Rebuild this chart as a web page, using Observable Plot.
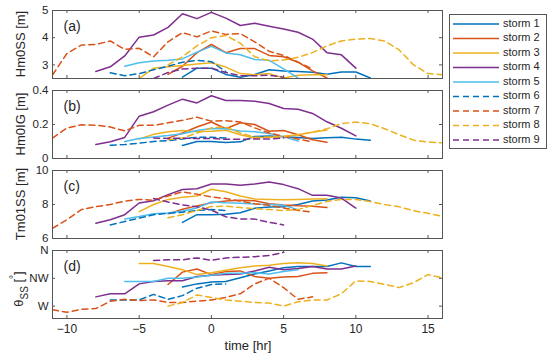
<!DOCTYPE html>
<html><head><meta charset="utf-8">
<script src="https://cdn.jsdelivr.net/npm/d3@7"></script>
<script src="https://cdn.jsdelivr.net/npm/@observablehq/plot@0.6"></script>
<style>
body{margin:0;background:#fff;}
#chart{position:relative;width:550px;height:359px;overflow:hidden;font-family:"Liberation Sans",Arial,sans-serif;}
#chart svg{position:absolute;left:0;}
</style></head><body><div id="chart"></div>
<script>
// ---------------- data ----------------
const stormNames = ["storm 1","storm 2","storm 3","storm 4","storm 5","storm 6","storm 7","storm 8","storm 9"];
const stormColors = ["#0072BD","#D95319","#EDB120","#7E2F8E","#4DBEEE","#0072BD","#D95319","#EDB120","#7E2F8E"];
const stormDashed = [false,false,false,false,false,true,true,true,true];

const s1_t     = [-2,-1,0,1,2,3,4,5,6,7,8,9,10,11];
const s1_hm0ss = [2.55,2.88,2.88,2.65,2.55,2.65,2.82,2.78,2.76,2.73,2.66,2.74,2.74,2.52];
const s1_hm0ig = [0.077,0.1,0.1,0.094,0.098,0.13,0.132,0.128,0.124,0.118,0.122,0.125,0.114,0.108];
const s1_tm01  = [6.95,7.4,7.4,7.42,7.52,7.78,7.85,7.87,8.0,8.2,8.26,8.42,8.4,8.2];
const s1_dir   = [301,306,309,310,316,322,327,332,334,334,334,340,334,334];

const s2_t     = [-3,-2,-1,0,1,2,3,4,5,6,7,8];
const s2_hm0ss = [2.65,2.95,3.45,3.75,3.45,3.6,3.6,3.35,3.3,3.1,2.78,2.52];
const s2_hm0ig = [0.12,0.15,0.185,0.215,0.175,0.21,0.2,0.16,0.165,0.14,0.11,0.095];
const s2_tm01  = [7.45,7.72,7.92,8.1,8.2,8.25,8.22,8.05,7.97,7.92,7.9,7.82];
const s2_dir   = [305,325,330,321,326,327,318,315,317,318,323,324];

const s3_t     = [-5,-4,-3,-2,-1,0,1,2,3,4,5,6,7,8];
const s3_hm0ss = [2.5,2.88,2.93,2.98,3.03,3.08,2.92,2.68,2.64,2.68,2.52,2.62,2.64,2.64];
const s3_hm0ig = [0.115,0.142,0.157,0.164,0.158,0.16,0.166,0.14,0.12,0.125,0.13,0.14,0.155,0.168];
const s3_tm01  = [7.58,8.0,8.3,8.42,8.5,8.9,8.75,8.5,8.32,8.3,8.28,8.3,8.32,8.34];
const s3_dir   = [339,339,334,329,321,324,328,332,335,336,339,340,339,335];

const s4_t     = [-8,-7,-6,-5,-4,-3,-2,-1,0,1,2,3,4,5,6,7,8,9,10];
const s4_hm0ss = [2.76,2.93,3.33,4.02,4.10,4.38,4.88,4.70,4.93,4.72,4.45,4.53,4.42,4.32,4.20,3.95,3.45,3.37,2.88];
const s4_hm0ig = [0.082,0.098,0.124,0.249,0.275,0.314,0.349,0.327,0.369,0.341,0.341,0.337,0.324,0.294,0.29,0.265,0.216,0.178,0.133];
const s4_tm01  = [6.9,7.1,7.4,8.09,8.22,8.58,8.88,8.93,9.21,9.21,9.13,9.21,9.33,9.17,8.93,8.54,8.54,8.38,7.79];
const s4_dir   = [285,290,290,306,310,311,311,318,320,321,322,327,333,329,331,334,330,330,335];

const s5_t     = [-6,-5,-4,-3,-2,-1,0,1,2,3,4,5,6];
const s5_hm0ss = [2.95,3.08,3.14,3.17,3.22,3.47,3.68,3.44,3.37,3.2,3.17,2.85,2.52];
const s5_hm0ig = [0.1,0.118,0.127,0.135,0.145,0.165,0.177,0.175,0.162,0.157,0.147,0.128,0.103];
const s5_tm01  = [7.15,7.3,7.45,7.5,7.62,7.8,8.15,8.1,8.08,8.03,8.0,7.95,7.7];
const s5_dir   = [310,310,310,315,315,317,320,323,323,324,322,326,329];

const s6_t     = [-7,-6,-5,-4,-3,-2,-1,0,1];
const s6_hm0ss = [2.71,2.6,2.68,2.82,2.95,3.1,3.17,3.12,2.75];
const s6_hm0ig = [0.078,0.082,0.09,0.1,0.105,0.115,0.125,0.125,0.12];
const s6_tm01  = [6.8,7.0,7.2,7.4,7.48,7.55,7.65,7.7,7.65];
const s6_dir   = [280,280,280,289,281,287,299,305,306];

const s7_t     = [-11,-10,-9,-8,-7,-6,-5,-4,-3,-2,-1,0,1,2,3,4,5,6,7];
const s7_hm0ss = [2.63,3.42,3.73,3.75,3.88,3.57,3.61,3.30,3.85,4.19,4.03,4.25,4.12,4.15,3.85,3.5,3.35,3.1,2.85];
const s7_hm0ig = [0.12,0.18,0.198,0.196,0.185,0.162,0.195,0.195,0.21,0.225,0.243,0.22,0.222,0.215,0.18,0.15,0.13,0.115,0.098];
const s7_tm01  = [6.6,7.1,7.7,7.87,8.0,8.2,8.3,8.25,8.5,8.75,8.6,8.45,8.35,8.2,8.05,7.95,7.8,7.65,7.55];
const s7_dir   = [264,260,265,266,278,281,279,280,276,276,278,280,284,290,306,315,300,281,285];

const s8_t     = [-3,-2,-1,0,1,2,3,4,5,6,7,8,9,10,11,12,13,14,15,16];
const s8_hm0ss = [3.0,3.3,3.7,4.0,4.08,3.8,3.3,3.15,3.18,3.28,3.45,3.7,3.88,3.95,3.97,3.88,3.55,3.0,2.68,2.64];
const s8_hm0ig = [0.11,0.12,0.15,0.18,0.185,0.15,0.125,0.125,0.13,0.14,0.155,0.175,0.205,0.214,0.205,0.175,0.14,0.108,0.097,0.092];
const s8_tm01  = [7.22,7.4,7.65,7.88,7.9,7.82,7.75,7.7,7.65,7.7,7.95,8.18,8.3,8.3,8.17,8.0,7.87,7.63,7.48,7.3];
const s8_dir   = [270,276,288,284,280,278,276,275,270,277,280,280,290,311,310,305,300,308,321,316];

const s9_t     = [-4,-3,-2,-1,0,1,2,3,4,5];
const s9_hm0ss = [2.5,2.72,2.85,2.88,2.88,2.72,2.6,2.6,2.62,2.55];
const s9_hm0ig = [0.12,0.118,0.12,0.117,0.118,0.113,0.113,0.115,0.115,0.12];
const s9_tm01  = [8.35,8.15,7.98,7.87,7.67,7.28,7.14,7.14,6.95,6.8];
const s9_dir   = [344,345,345,348,344,348,349,350,352,357];

const xTicks = [-10,-5,0,5,10,15];
const hm0ssTicks = [3,4,5];
const hm0igTicks = [0,0.2,0.4];
const tm01Ticks = [6,8,10];
const dirTicks = [270,315,360];
const dirTickLabels = ["W","NW","N"];
const panelTags = ["(a)","(b)","(c)","(d)"];

// ---------------- assembly ----------------
const stormTimes = [s1_t,s2_t,s3_t,s4_t,s5_t,s6_t,s7_t,s8_t,s9_t];
const seriesByPanel = [
  [s1_hm0ss,s2_hm0ss,s3_hm0ss,s4_hm0ss,s5_hm0ss,s6_hm0ss,s7_hm0ss,s8_hm0ss,s9_hm0ss],
  [s1_hm0ig,s2_hm0ig,s3_hm0ig,s4_hm0ig,s5_hm0ig,s6_hm0ig,s7_hm0ig,s8_hm0ig,s9_hm0ig],
  [s1_tm01,s2_tm01,s3_tm01,s4_tm01,s5_tm01,s6_tm01,s7_tm01,s8_tm01,s9_tm01],
  [s1_dir,s2_dir,s3_dir,s4_dir,s5_dir,s6_dir,s7_dir,s8_dir,s9_dir]
];
const panels = [
  {domain:[2.5,5], ticks:hm0ssTicks, fmt:d=>String(d), top:0},
  {domain:[0,0.4], ticks:hm0igTicks, fmt:d=>String(d), top:80},
  {domain:[6,10], ticks:tm01Ticks, fmt:d=>String(d), top:160},
  {domain:[250,360], ticks:dirTicks, fmt:d=>dirTickLabels[dirTicks.indexOf(d)], top:240}
];

const W = 550, ML = 52, MR = 108, FH = 68, PW = W - ML - MR;
const axisColor = "#262626", frameColor = "#555";
const chart = document.getElementById("chart");

panels.forEach((p, i) => {
  const last = i === 3;
  const mt = 10, mb = last ? 41 : 0;
  const lines = seriesByPanel[i].map((vals, k) => {
    const rows = stormTimes[k].map((t, j) => ({t, v: vals[j]}));
    return Plot.line(rows, {x:"t", y:"v", stroke: stormColors[k], strokeWidth: 1.5,
      strokeDasharray: stormDashed[k] ? "6,4" : null, clip: true});
  });
  const marks = [
    ...lines,
    Plot.ruleX(xTicks, {x:d=>d, insetTop: FH-3, stroke: frameColor}),
    Plot.ruleX(xTicks, {x:d=>d, insetBottom: FH-3, stroke: frameColor}),
    Plot.ruleY(p.ticks, {y:d=>d, insetRight: PW-3, stroke: frameColor}),
    Plot.ruleY(p.ticks, {y:d=>d, insetLeft: PW-3, stroke: frameColor}),
    Plot.frame({stroke: frameColor}),
    Plot.text([panelTags[i]], {text:d=>d, frameAnchor:"top-left", dx: 11, dy: 11, fontSize: 14,
      textAnchor:"start", lineAnchor:"top", fill: axisColor}),
    Plot.axisY({ticks: p.ticks, tickSize: 0, tickPadding: 4, tickFormat: p.fmt, fontSize: 11.5, label: null})
  ];
  if (last) marks.push(Plot.axisX({ticks: xTicks, tickSize: 0, tickPadding: 6, fontSize: 12, label: null}));
  const svg = Plot.plot({
    width: W, height: mt + FH + mb,
    marginLeft: ML, marginRight: MR, marginTop: mt, marginBottom: mb,
    style: {fontFamily: "'Liberation Sans', Arial, sans-serif", fontSize: "12px", color: axisColor, background: "transparent", overflow: "visible"},
    x: {domain: [-11, 16], axis: last ? undefined : null},
    y: {domain: p.domain},
    marks
  });
  svg.style.position = "absolute";
  svg.style.top = p.top + "px";
  svg.style.left = "0px";
  chart.appendChild(svg);
});

// ---------------- overlay: labels & legend ----------------
const ov = d3.select(chart).append("svg")
  .attr("width", W).attr("height", 359)
  .style("position","absolute").style("top","0px").style("left","0px")
  .style("font-family","'Liberation Sans', Arial, sans-serif");

const yLabels = [
  {text:"Hm0SS [m]", cy: 44},
  {text:"Hm0IG [m]", cy: 124},
  {text:"Tm01SS [m]", cy: 204},
];
yLabels.forEach(l => {
  ov.append("text").attr("transform", `translate(22,${l.cy}) rotate(-90)`)
    .attr("text-anchor","middle").attr("dominant-baseline","middle")
    .attr("font-size", 13).attr("fill", axisColor).text(l.text);
});
const th = ov.append("text").attr("transform", `translate(20,289) rotate(-90)`)
  .attr("text-anchor","middle").attr("dominant-baseline","middle")
  .attr("font-size", 13).attr("fill", axisColor);
th.append("tspan").text("θ");
th.append("tspan").attr("baseline-shift","sub").attr("font-size", 10).text("SS");
th.append("tspan").text(" [");
th.append("tspan").attr("baseline-shift","super").attr("font-size", 10).text("°");
th.append("tspan").text("]");

ov.append("text").attr("x", 248).attr("y", 347).attr("text-anchor","middle")
  .attr("dominant-baseline","middle").attr("font-size", 13).attr("fill", axisColor).text("time [hr]");

// legend
ov.append("rect").attr("x", 449.5).attr("y", 14.5).attr("width", 97).attr("height", 134)
  .attr("fill","#fff").attr("stroke", frameColor);
stormNames.forEach((name, k) => {
  const y = 24 + k * 14.5;
  ov.append("line").attr("x1", 453).attr("x2", 499).attr("y1", y).attr("y2", y)
    .attr("stroke", stormColors[k]).attr("stroke-width", 1.5)
    .attr("stroke-dasharray", stormDashed[k] ? "6,4" : null);
  ov.append("text").attr("x", 503).attr("y", y).attr("dominant-baseline","middle")
    .attr("font-size", 11).attr("fill", axisColor).text(name);
});
</script></body></html>
